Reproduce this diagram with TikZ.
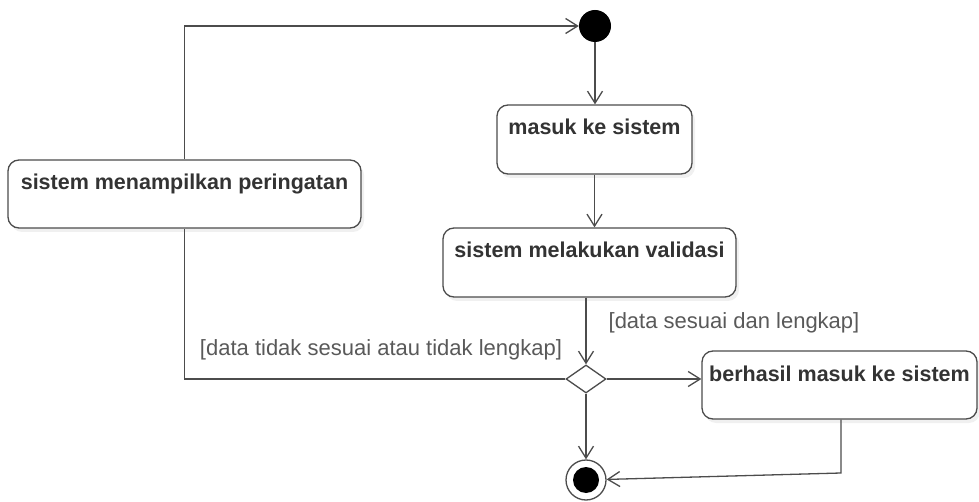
\documentclass[tikz,border=0pt]{standalone}
\usepackage{fontspec}
\setmainfont{Liberation Sans}
\usetikzlibrary{arrows.meta,shapes.geometric,shadows}
\begin{document}
\begin{tikzpicture}[x=1pt,y=-1pt,
  act/.style={draw=black!70,line width=1.3pt,rounded corners=11pt,fill=white,
    drop shadow={opacity=0.12,shadow xshift=3pt,shadow yshift=-4pt},
    font=\fontsize{21.5}{25}\selectfont\bfseries,text=black!80,
    inner xsep=0pt,inner ysep=0pt,text height=30pt,text depth=39pt},
  guard/.style={font=\fontsize{22}{26}\selectfont,text=black!65},
  flow/.style={draw=black!70,line width=1.3pt,-{Straight Barb[length=12pt,width=15pt]}},
  plain/.style={draw=black!70,line width=1.3pt}]
\useasboundingbox (0,0) rectangle (979,502);
\node[circle,fill=black,minimum size=32pt,inner sep=0pt] (start) at (595,26) {};
\node[act,minimum width=195pt] (masuk) at (594.5,139.5) {masuk ke sistem};
\node[act,minimum width=353pt,text depth=38pt] (peringatan) at (184.5,194) {sistem menampilkan peringatan};
\node[act,minimum width=293pt] (validasi) at (589.5,262.5) {sistem melakukan validasi};
\node[diamond,draw=black!70,line width=1.3pt,fill=white,minimum width=40pt,minimum height=28pt,inner sep=0pt] (dec) at (586,379) {};
\node[act,minimum width=275pt,text depth=38pt] (berhasil) at (839.5,385) {berhasil masuk ke sistem};
\node[circle,draw=black!70,line width=1.3pt,fill=white,minimum size=40pt,inner sep=0pt,
  path picture={\fill[black] (path picture bounding box.center) circle (13pt);}] (end) at (586,480) {};
\coordinate (bend) at (841,473);
\node[guard] (gyes) at (734,323) {[data sesuai dan lengkap]};
\node[guard] (gno) at (381,350) {[data tidak sesuai atau tidak lengkap]};
\draw[flow] (start) -- (start |- masuk.north);
\draw[flow] (masuk.south) -- (masuk.south |- validasi.north);
\draw[flow] (validasi.south -| dec.north) -- (dec.north);
\draw[flow] (dec.east) -- (dec.east -| berhasil.west);
\draw[flow] (dec.south) -- (end.north);
\draw[flow] (berhasil.south -| bend) -- (bend) -- (end);
\draw[plain] (dec.west) -| (peringatan.south);
\draw[flow] (peringatan.north) |- (start);
\end{tikzpicture}
\end{document}
